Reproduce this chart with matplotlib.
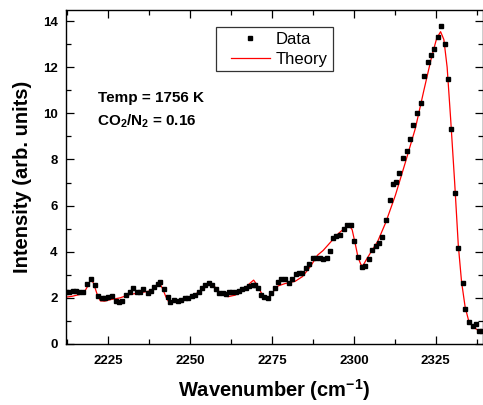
import matplotlib
matplotlib.use("Agg")
import matplotlib.pyplot as plt
from matplotlib.ticker import MultipleLocator
from matplotlib.lines import Line2D
from matplotlib.legend_handler import HandlerLine2D

plt.rcParams['font.family'] = ['Liberation Sans', 'DejaVu Sans']
plt.rcParams['mathtext.fontset'] = 'custom'
plt.rcParams['mathtext.rm'] = 'Liberation Sans'
plt.rcParams['mathtext.bf'] = 'Liberation Sans:bold'
plt.rcParams['mathtext.default'] = 'bf'

# Measured data (wavenumber, intensity)
data_x = [2212.1, 2213.1, 2214.1, 2215.2, 2216.2, 2217.4, 2218.6, 2219.7, 2221.0, 2222.0,
          2223.0, 2224.0, 2225.0, 2226.1, 2227.3, 2228.3, 2229.3, 2230.4, 2231.5, 2232.7,
          2233.7, 2234.7, 2235.7, 2237.0, 2238.0, 2239.0, 2240.1, 2240.8, 2242.0, 2243.2,
          2243.9, 2245.1, 2246.2, 2247.2, 2248.5, 2249.5, 2250.5, 2251.5, 2252.6, 2253.6,
          2254.6, 2255.8, 2256.8, 2257.9, 2258.9, 2259.9, 2260.9, 2261.9, 2262.9, 2264.0,
          2265.0, 2266.0, 2267.1, 2268.1, 2269.1, 2269.9, 2270.6, 2271.6, 2272.6, 2273.7,
          2274.8, 2275.8, 2276.9, 2277.9, 2279.0, 2280.2, 2281.2, 2282.2, 2283.3, 2284.3,
          2285.3, 2286.3, 2287.5, 2288.5, 2289.6, 2290.6, 2291.8, 2292.8, 2293.7, 2294.7,
          2295.9, 2296.9, 2298.0, 2299.0, 2300.2, 2301.2, 2302.4, 2303.3, 2304.5, 2305.6,
          2306.7, 2307.7, 2308.7, 2309.7, 2310.9, 2311.9, 2312.9, 2313.9, 2315.1, 2316.2,
          2317.1, 2318.2, 2319.2, 2320.4, 2321.4, 2322.6, 2323.6, 2324.5, 2325.6, 2326.6,
          2327.8, 2328.7, 2329.8, 2331.0, 2331.9, 2333.2, 2334.0, 2335.1, 2336.3, 2337.2,
          2338.1, 2339.1]
data_y = [2.24, 2.24, 2.30, 2.30, 2.27, 2.27, 2.60, 2.82, 2.56, 2.08,
          2.01, 2.01, 2.02, 2.08, 1.88, 1.83, 1.88, 2.12, 2.27, 2.41,
          2.27, 2.27, 2.37, 2.22, 2.30, 2.46, 2.60, 2.67, 2.37, 2.02,
          1.83, 1.91, 1.88, 1.91, 1.98, 1.98, 2.08, 2.12, 2.27, 2.41,
          2.56, 2.63, 2.56, 2.38, 2.20, 2.20, 2.15, 2.24, 2.27, 2.27,
          2.30, 2.37, 2.44, 2.51, 2.55, 2.56, 2.41, 2.12, 2.05, 2.01,
          2.19, 2.41, 2.70, 2.82, 2.82, 2.63, 2.80, 3.04, 3.09, 3.09,
          3.28, 3.45, 3.71, 3.71, 3.71, 3.67, 3.71, 4.05, 4.58, 4.68,
          4.72, 4.97, 5.16, 5.16, 4.48, 3.76, 3.32, 3.38, 3.70, 4.07,
          4.25, 4.39, 4.65, 5.37, 6.24, 6.94, 7.02, 7.43, 8.06, 8.38,
          8.87, 9.48, 10.00, 10.43, 11.62, 12.24, 12.53, 12.77, 13.29, 13.78,
          13.00, 11.49, 9.31, 6.53, 4.16, 2.63, 1.50, 0.97, 0.78, 0.87,
          0.58, 0.58]

# Theory curve
theory_x = [2212.1, 2214.0, 2216.4, 2217.9, 2218.9, 2219.7, 2220.6, 2221.5, 2222.6, 2224.0,
            2225.5, 2228.6, 2231.7, 2234.7, 2237.8, 2239.3, 2240.5, 2241.6, 2242.6, 2243.5,
            2245.4, 2248.5, 2251.5, 2254.6, 2255.9, 2257.4, 2259.2, 2261.6, 2263.8, 2266.8,
            2268.4, 2269.4, 2270.5, 2272.0, 2273.6, 2275.1, 2276.9, 2279.0, 2282.1, 2284.3,
            2286.7, 2288.9, 2290.6, 2292.8, 2295.0, 2297.4, 2298.4, 2299.5, 2300.5, 2301.3,
            2302.2, 2302.8, 2303.8, 2305.5, 2307.3, 2309.7, 2312.7, 2315.8, 2318.8, 2321.4,
            2323.6, 2325.3, 2326.5, 2327.5, 2328.5, 2329.6, 2330.8, 2331.9, 2332.9, 2334.0,
            2335.0, 2336.3, 2337.9, 2339.3]
theory_y = [2.03, 2.07, 2.15, 2.30, 2.55, 2.85, 2.60, 2.20, 1.87, 1.86,
            1.92, 2.00, 2.15, 2.22, 2.30, 2.45, 2.68, 2.40, 2.05, 1.82,
            1.80, 1.90, 2.15, 2.45, 2.63, 2.50, 2.22, 2.05, 2.12, 2.42,
            2.65, 2.77, 2.55, 2.15, 1.97, 2.22, 2.52, 2.62, 2.72, 2.92,
            3.35, 3.85, 4.05, 4.40, 4.75, 5.05, 5.18, 4.95, 4.30, 3.75,
            3.43, 3.40, 3.65, 4.05, 4.45, 5.25, 6.45, 7.90, 9.35, 11.00,
            12.35, 13.25, 13.54, 13.20, 12.00, 9.70, 7.00, 4.30, 2.70, 1.60,
            1.05, 0.75, 0.60, 0.56]

x_ticks = [2225, 2250, 2275, 2300, 2325]
y_ticks = [0, 2, 4, 6, 8, 10, 12, 14]

fig = plt.figure(figsize=(4.83, 4.05), dpi=100)
ax = fig.add_axes([66/483, 61/405, 416.5/483, 334/405])

ax.plot(data_x, data_y, linestyle='none', marker='s', markersize=2.6,
        color='black', label='Data', zorder=3)
ax.plot(theory_x, theory_y, color='red', linewidth=0.9, label='Theory', zorder=2)

ax.set_xlim(2212.1, 2339.3)
ax.set_ylim(0, 14.48)
ax.set_xticks(x_ticks)
ax.set_yticks(y_ticks)
ax.xaxis.set_minor_locator(MultipleLocator(12.5))
ax.yaxis.set_minor_locator(MultipleLocator(1))
ax.tick_params(which='both', direction='in', top=True, right=True, width=0.9)
ax.tick_params(which='major', length=6)
ax.tick_params(which='minor', length=3.5)
ax.tick_params(axis='x', which='major', pad=8, labelsize=9.5)
ax.tick_params(axis='y', which='major', pad=6, labelsize=9.5)
for lab in ax.get_xticklabels() + ax.get_yticklabels():
    lab.set_fontweight('bold')
for sp in ax.spines.values():
    sp.set_linewidth(1.0)

ax.set_xlabel('Wavenumber (cm$^{-1}$)', fontsize=14.5, fontweight='bold', labelpad=7.5)
ax.set_ylabel('Intensity (arb. units)', fontsize=14.5, fontweight='bold', labelpad=8)

ax.text(0.077, 0.725, 'Temp = 1756 K', transform=ax.transAxes, fontsize=11,
        fontweight='bold', va='baseline', ha='left')
ax.text(0.075, 0.653, 'CO$_2$/N$_2$ = 0.16', transform=ax.transAxes, fontsize=11,
        fontweight='bold', va='baseline', ha='left')

leg = ax.legend(loc='upper left', bbox_to_anchor=((216-66)/416.5, (344-27)/334),
                fontsize=12, frameon=True, fancybox=False, edgecolor='black',
                handlelength=2.96, borderpad=0.28, labelspacing=0.3, handletextpad=0.36,
                markerscale=1.0, borderaxespad=0,
                handler_map={Line2D: HandlerLine2D(xpad=0.6)})
leg.get_frame().set_linewidth(0.9)

fig.savefig('out.png', dpi=100)
